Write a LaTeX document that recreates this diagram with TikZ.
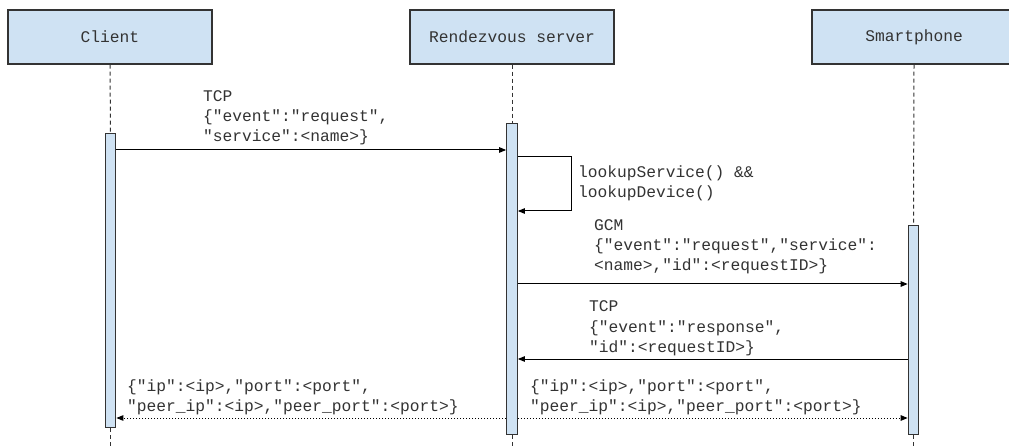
\documentclass[tikz,border=0pt]{standalone}
\usepackage{fontspec}
\setmonofont{Liberation Mono}
\usetikzlibrary{arrows.meta}
\definecolor{boxfill}{HTML}{CFE2F3}
\definecolor{ink}{HTML}{333333}
\tikzset{
 actor/.style={draw=ink, line width=1.2pt, fill=boxfill, minimum width=204pt, minimum height=54pt, inner sep=0pt, font=\ttfamily\fontsize{16.25}{20}\selectfont, text=ink},
 bar/.style={draw=ink, line width=1.2pt, fill=boxfill, minimum width=10.5pt, inner sep=0pt, anchor=north},
 life/.style={draw=ink, line width=1pt, dash pattern=on 4pt off 3pt},
 msg/.style={draw=black, line width=1pt, -{Triangle[length=7pt,width=5.5pt]}},
 reply/.style={msg, dash pattern=on 1pt off 2pt},
 lbl/.style={font=\ttfamily\fontsize{16.25}{20}\selectfont, text=ink, align=left, anchor=base west, inner sep=0pt},
}
\begin{document}
\begin{tikzpicture}[x=1pt,y=-1pt]
\clip (0,0) rectangle (1009,446);
\fill[white] (0,0) rectangle (1009,446);
% actors
\node[actor] (client) at (110,37) {Client};
\node[actor] (server) at (512,37) {Rendezvous server};
\node[actor] (phone) at (914,37) {Smartphone};
% activation bars
\node[bar, minimum height=294pt] (cbar) at (110.5,133) {};
\node[bar, minimum height=311pt] (rbar) at (512,123) {};
\node[bar, minimum height=209pt] (sbar) at (913.5,225) {};
\coordinate (cend) at (110.5,446);
\coordinate (rend) at (512,446);
\coordinate (send) at (913.5,446);
% lifelines
\draw[life] (client.south) -- (cbar.north);
\draw[life] (cbar.south) -- (cend);
\draw[life] (server.south) -- (rbar.north);
\draw[life] (rbar.south) -- (rend);
\draw[life] (phone.south) -- (sbar.north);
\draw[life] (sbar.south) -- (send);
% messages
\draw[msg] (cbar.east |- 0,150) -- (rbar.west |- 0,150);
\node[lbl] (l1) at (203,142) {TCP\\\{"event":"request",\\"service":<name>\}};
\coordinate (loop1) at (571,157);
\coordinate (loop2) at (571,211);
\draw[msg] (rbar.east |- loop1) -- (loop1) -- (loop2) -- (rbar.east |- loop2);
\node[lbl] (l2) at (578,198) {lookupService() \&\&\\lookupDevice()};
\draw[msg] (rbar.east |- 0,284) -- (sbar.west |- 0,284);
\node[lbl] (l3) at (594,271) {GCM\\\{"event":"request","service":\\<name>,"id":<requestID>\}};
\draw[msg] (sbar.west |- 0,359) -- (rbar.east |- 0,359);
\node[lbl] (l4) at (589,352) {TCP\\\{"event":"response",\\"id":<requestID>\}};
\draw[reply] (rbar.west |- 0,418) -- (cbar.east |- 0,418);
\node[lbl] (l5) at (127,411.5) {\{"ip":<ip>,"port":<port",\\"peer\_ip":<ip>,"peer\_port":<port>\}};
\draw[reply] (rbar.east |- 0,418) -- (sbar.west |- 0,418);
\node[lbl] (l6) at (530,411.5) {\{"ip":<ip>,"port":<port",\\"peer\_ip":<ip>,"peer\_port":<port>\}};
\end{tikzpicture}
\end{document}
